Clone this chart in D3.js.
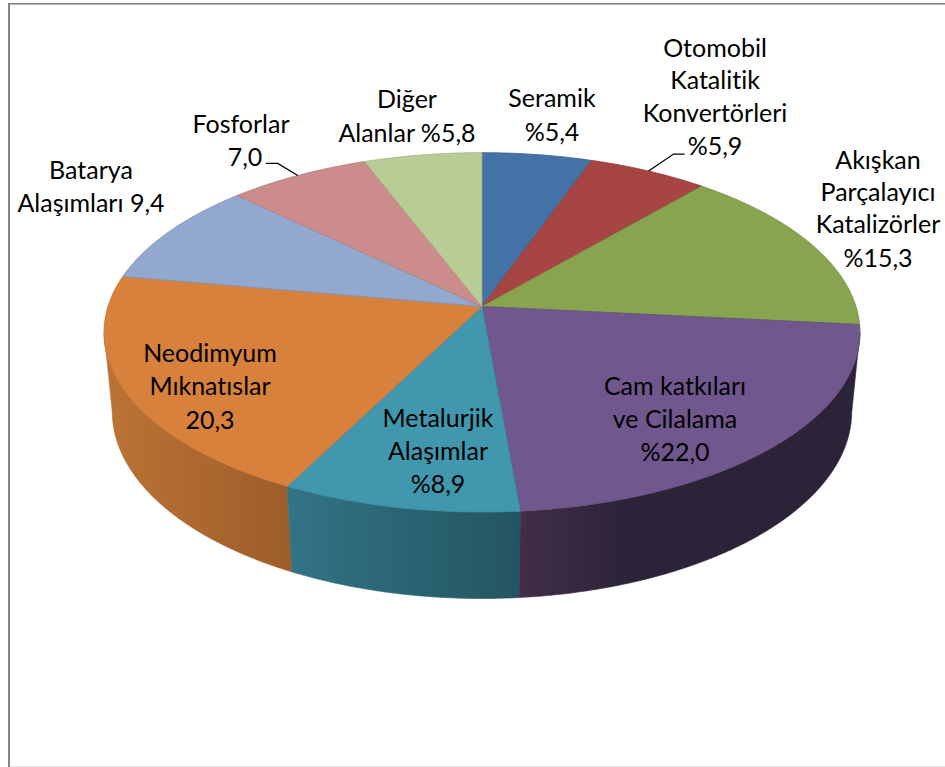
<!DOCTYPE html>
<html><head><meta charset="utf-8">
<script src="https://cdn.jsdelivr.net/npm/d3@7/dist/d3.min.js"></script>
<style>html,body{margin:0;padding:0;background:#fff}svg{display:block}
text{font-family:Lato,"Open Sans",sans-serif;font-size:25px;fill:#000;text-anchor:middle;font-variant-ligatures:none}</style>
</head><body><svg id="c" width="945" height="767"></svg>
<script>
// data
const categories = ["Seramik","Otomobil Katalitik Konvertörleri","Akışkan Parçalayıcı Katalizörler","Cam katkıları ve Cilalama","Metalurjik Alaşımlar","Neodimyum Mıknatıslar","Batarya Alaşımları","Fosforlar","Diğer Alanlar"];
const shares = [5.4,5.9,15.3,22.0,8.9,20.3,9.4,7.0,5.8];
const labelLines = [["Seramik","%5,4"],["Otomobil","Katalitik","Konvertörleri","%5,9"],["Akışkan","Parçalayıcı","Katalizörler","%15,3"],["Cam katkıları","ve Cilalama","%22,0"],["Metalurjik","Alaşımlar","%8,9"],["Neodimyum","Mıknatıslar","20,3"],["Batarya","Alaşımları 9,4"],["Fosforlar","7,0"],["Diğer","Alanlar %5,8"]];
// style and layout
const topColors = ["#4471a6","#a64543","#88a44f","#70578e","#4097ae","#d8813c","#92a8ce","#cc8c8c","#b8cc95"];
const wallFrom = {3:"#412e4a",4:"#327486",5:"#bc7335"};
const wallTo   = {3:"#2c2338",4:"#235560",5:"#9c5d2a"};
const labelX = [[552,552],[715,715,715,715],[878,878,878,878],[675,675,675],[438,438,438],[210,210,210],[91,91],[241,245],[407,407]];
const labelY = [[107,141],[57,89,122,155],[169,201,233,267],[395,428,461],[427,460,493],[362,395,429],[179,212],[133,166],[108,142]];
const leaders = {1:[[36,-17],[25,-17]],7:[[-32,-12],[-20,-12]]};

const svg = d3.select("#c");
const cx=482, cy=306.5, A=374, B=176, persp=0.144, drop=0.0217, D=80.3;
const xS = d3.scaleLinear().domain([-1,1]).range([cx-A,cx+A]);
const yS = d3.scaleLinear().domain([-1,1]).range([cy-B,cy+B]);
function proj(t,h){ // t: pie angle, h: 0 top, 1 bottom
  const u=Math.sin(t), v=-Math.cos(t), w=1-persp*v+drop*h;
  return [xS(u/w), yS(v/w)+h*D/w];
}
const centerTop=[xS(0),yS(0)];
const pie=d3.pie().sort(null).value(d=>d)(shares);
const line=d3.line();
function arcPts(a,b,h){const n=Math.max(4,Math.ceil(Math.abs(b-a)/0.01));return d3.range(n+1).map(i=>proj(a+(b-a)*i/n,h));}
// the wall is only seen between the two silhouette angles of the perspective ellipse
const silR=Math.acos(-persp), silL=2*Math.PI-silR;

svg.append("rect").attr("width",945).attr("height",767).attr("fill","#fff");
// frame
svg.append("rect").attr("x",8).attr("y",3).attr("width",2).attr("height",764).attr("fill","#868686");
svg.append("rect").attr("x",8).attr("y",3).attr("width",937).attr("height",1.6).attr("fill","#868686");
svg.append("rect").attr("x",10).attr("y",766).attr("width",935).attr("height",1).attr("fill","#e6e6e6");

const defs=svg.append("defs");
// walls
[5,4,3].forEach(i=>{
  const p=pie[i], a=Math.max(p.startAngle,silR), b=Math.min(p.endAngle,silL);
  const top=arcPts(a,b,0), bot=arcPts(a,b,1);
  const xs=bot.concat(top).map(d=>d[0]);
  const g=defs.append("linearGradient").attr("id","w"+i).attr("gradientUnits","userSpaceOnUse")
    .attr("x1",d3.min(xs)).attr("x2",i==3?d3.min(xs)+110:d3.max(xs)).attr("y1",0).attr("y2",0);
  g.append("stop").attr("offset",0).attr("stop-color",wallFrom[i]);
  g.append("stop").attr("offset",1).attr("stop-color",wallTo[i]);
  svg.append("path").attr("d",line(top.concat(bot.reverse()))+"Z").attr("fill",`url(#w${i})`).attr("stroke",`url(#w${i})`).attr("stroke-width",.6);
});
// top face
pie.forEach((p,i)=>{
  const pts=[centerTop].concat(arcPts(p.startAngle,p.endAngle,0));
  svg.append("path").attr("d",line(pts)+"Z").attr("fill",topColors[i])
    .attr("stroke",d3.color(topColors[i]).darker(.35)).attr("stroke-width",.8).attr("stroke-linejoin","round");
});
// leader lines
Object.keys(leaders).forEach(k=>{
  const p=pie[k], e=proj((p.startAngle+p.endAngle)/2,0);
  const pts=leaders[k].map(o=>[e[0]+o[0],e[1]+o[1]]).concat([e]);
  svg.append("path").attr("d",line(pts)).attr("fill","none").attr("stroke","#000").attr("stroke-width",1.3);
});
// labels
labelLines.forEach((ls,i)=>ls.forEach((s,j)=>{
  svg.append("text").attr("x",labelX[i][j]).attr("y",labelY[i][j]).text(s);
}));
</script></body></html>
